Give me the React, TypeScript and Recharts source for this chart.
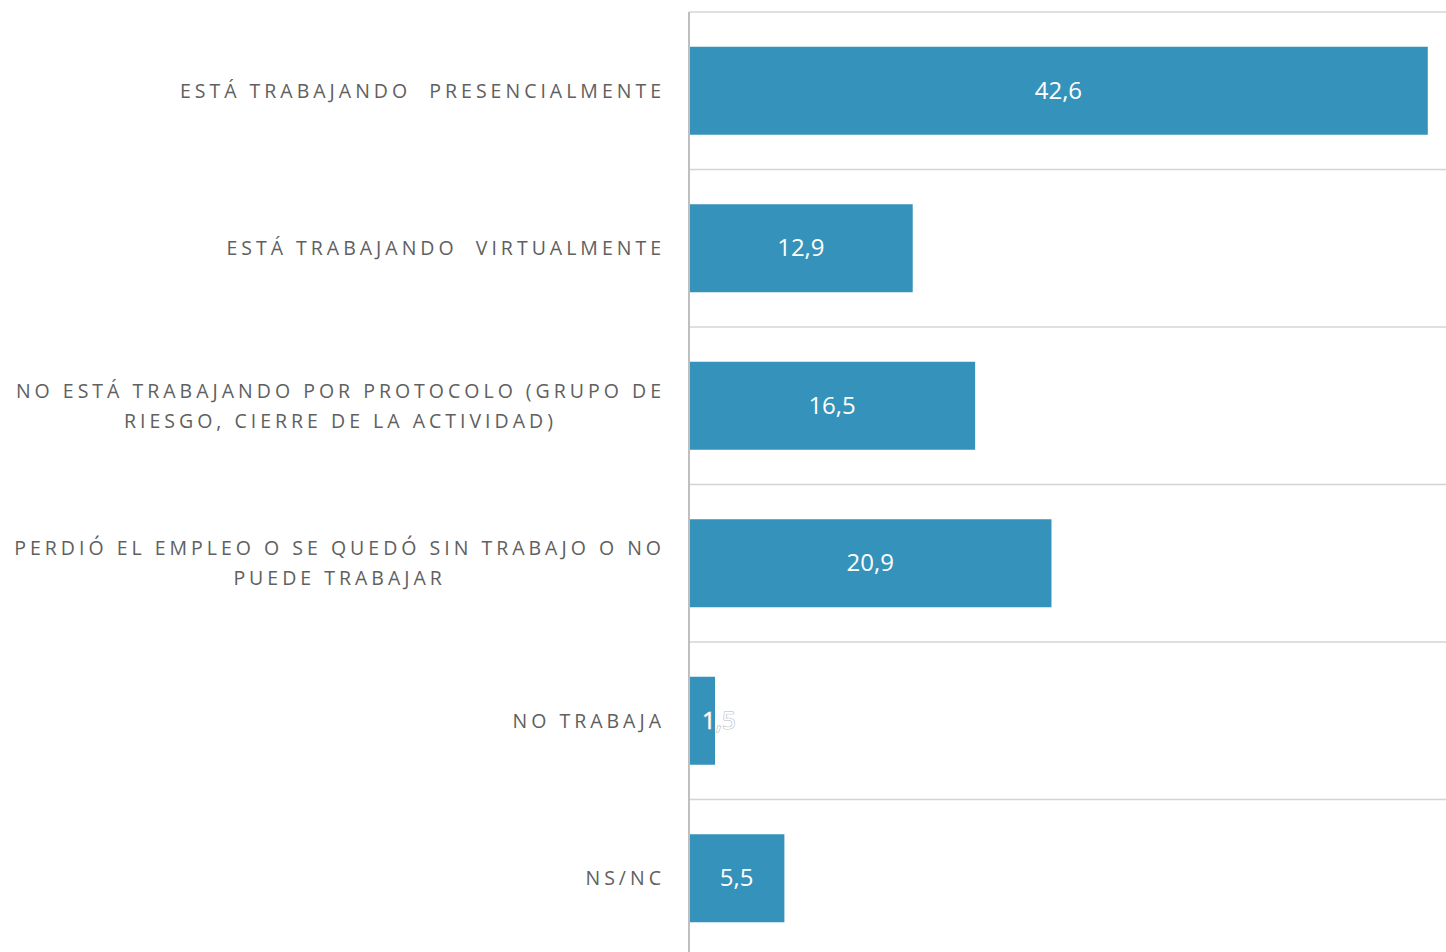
import React from "react";
import { BarChart, Bar, XAxis, YAxis, CartesianGrid, LabelList } from "recharts";

const categories: string[] = [
  "ESTÁ TRABAJANDO  PRESENCIALMENTE",
  "ESTÁ TRABAJANDO  VIRTUALMENTE",
  "NO ESTÁ TRABAJANDO POR PROTOCOLO (GRUPO DE\nRIESGO, CIERRE DE LA ACTIVIDAD)",
  "PERDIÓ EL EMPLEO O SE QUEDÓ SIN TRABAJO O NO\nPUEDE TRABAJAR",
  "NO TRABAJA",
  "NS/NC",
];

const values: number[] = [42.6, 12.9, 16.5, 20.9, 1.5, 5.5];

const data = categories.map((name, i) => ({ name, value: values[i] }));

const BAR_COLOR = "#3592BA";
const LABEL_FONT = "'Open Sans', 'Liberation Sans', sans-serif";
const SPACING = 4;

const CategoryTick = (props: any) => {
  const { y, payload } = props;
  const boxH = 80;
  return (
    <foreignObject x={0} y={y - boxH / 2} width={661 + SPACING} height={boxH}>
      <div
        style={{
          width: "100%",
          height: "100%",
          display: "flex",
          justifyContent: "flex-end",
          alignItems: "center",
        }}
      >
        <div
          style={{
            whiteSpace: "pre",
            textAlign: "center",
            fontFamily: LABEL_FONT,
            fontSize: 19.5,
            letterSpacing: SPACING + "px",
            lineHeight: "30px",
            color: "#606060",
          }}
        >
          {payload.value}
        </div>
      </div>
    </foreignObject>
  );
};

const ValueLabel = (props: any) => {
  const { x, y, width, height, value } = props;
  const narrow = width < 40;
  const text = String(value).replace(".", ",");
  return (
    <text
      x={x + width / 2}
      y={y + height / 2}
      dy={8}
      textAnchor={narrow ? "start" : "middle"}
      fill="#ffffff"
      stroke={narrow ? "#b8b8b8" : "none"}
      strokeWidth={narrow ? 1.2 : 0}
      paintOrder="stroke"
      fontFamily={LABEL_FONT}
      fontSize={24}
    >
      {text}
    </text>
  );
};

export default function App() {
  return (
    <div style={{ position: "absolute", left: 0, top: 0, background: "#fff" }}>
      <BarChart
        width={1446}
        height={957}
        data={data}
        layout="vertical"
        margin={{ top: 12, right: 0, bottom: 0, left: 0 }}
        barCategoryGap="22%"
      >
        <CartesianGrid
          vertical={false}
          stroke="#d4d4d4"
          strokeWidth={1.5}
          horizontalCoordinatesGenerator={({ offset }: any) => {
            const n = categories.length;
            const pts: number[] = [];
            for (let i = 0; i <= n; i++) pts.push(offset.top + (i * offset.height) / n);
            return pts;
          }}
        />
        <XAxis type="number" domain={[0, 43.65]} hide />
        <YAxis
          type="category"
          dataKey="name"
          width={689}
          axisLine={{ stroke: "#bfbfbf", strokeWidth: 2 }}
          tickLine={false}
          tick={<CategoryTick />}
          interval={0}
        />
        <Bar dataKey="value" fill={BAR_COLOR} isAnimationActive={false}>
          <LabelList dataKey="value" content={<ValueLabel />} />
        </Bar>
      </BarChart>
    </div>
  );
}
